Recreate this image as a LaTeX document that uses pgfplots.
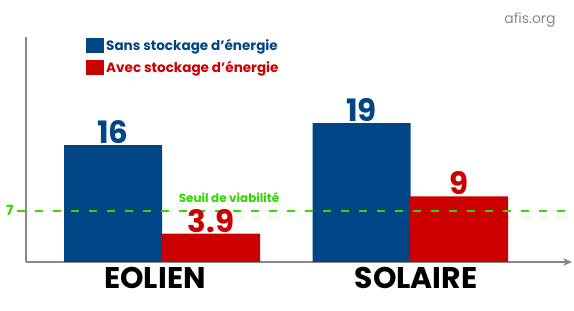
\documentclass[border=0pt]{standalone}
\usepackage{fontspec}
\setmainfont{Poppins}
\usepackage{pgfplots}
\pgfplotsset{compat=1.18}
\usetikzlibrary{arrows.meta}
\definecolor{cblue}{RGB}{0,69,134}
\definecolor{cred}{RGB}{204,0,0}
\definecolor{cgreen}{RGB}{51,214,0}
\definecolor{cgrey}{RGB}{136,136,136}
\begin{document}
\begin{tikzpicture}
\useasboundingbox (0,0) rectangle (574bp,311bp);
\begin{axis}[
  at={(26bp,49bp)}, anchor=south west,
  scale only axis, width=546bp, height=225bp,
  xmin=26, xmax=572, ymin=0, ymax=30.8,
  /pgf/number format/assume math mode=true,
  axis x line=bottom, axis y line=left,
  x axis line style={cgrey, line width=1.5bp, -{Stealth[length=9bp,width=8bp]}},
  y axis line style={cgrey, line width=1.5bp, -},
  xtick={155,416}, xticklabels={EOLIEN,SOLAIRE},
  xticklabel style={font=\fontsize{30}{30}\selectfont\bfseries, black, yshift=-2bp},
  ytick={7}, yticklabel style={cgreen, font=\fontsize{14}{14}\selectfont\bfseries, xshift=-9bp},
  major tick length=0pt,
  ybar, bar width=98, bar shift=0pt,
  clip=false,
  legend style={at={(axis cs:86,30.8)}, anchor=north west, draw=none, fill=none,
    font=\fontsize{13.6}{13.6}\selectfont\bfseries, row sep=5bp, inner sep=0pt},
  legend cell align=left,
]
\addplot[fill=cblue, draw=none,
  nodes near coords, nodes near coords style={cblue, font=\fontsize{31}{31}\selectfont\bfseries, anchor=south, inner sep=1bp},
  legend image code/.code={\fill[cblue] (0bp,-7.5bp) rectangle (18bp,7.5bp);}]
  coordinates {(113,16) (361.5,19)};
\addlegendentry{\textcolor{cblue}{Sans stockage d{\char"27}énergie}}
\addplot[fill=cred, draw=none,
  nodes near coords, nodes near coords style={cred, font=\fontsize{31}{31}\selectfont\bfseries, anchor=south, inner sep=1bp},
  legend image code/.code={\fill[cred] (0bp,-7.5bp) rectangle (18bp,7.5bp);}]
  coordinates {(211,3.9) (459,9)};
\addlegendentry{\textcolor{cred}{Avec stockage d{\char"27}énergie}}
\addplot[sharp plot, cgreen, line width=2bp, dash pattern=on 8bp off 10bp, forget plot, nodes near coords={}]
  coordinates {(17,7) (572,7)};
\node[cgreen, font=\fontsize{12}{12}\selectfont\bfseries, anchor=south] at (axis cs:229,7.6) {Seuil de viabilité};
\end{axis}
\node[cgrey, font=\fontsize{14}{14}\selectfont, anchor=center] at (530bp,291bp) {afis.org};
\end{tikzpicture}
\end{document}
